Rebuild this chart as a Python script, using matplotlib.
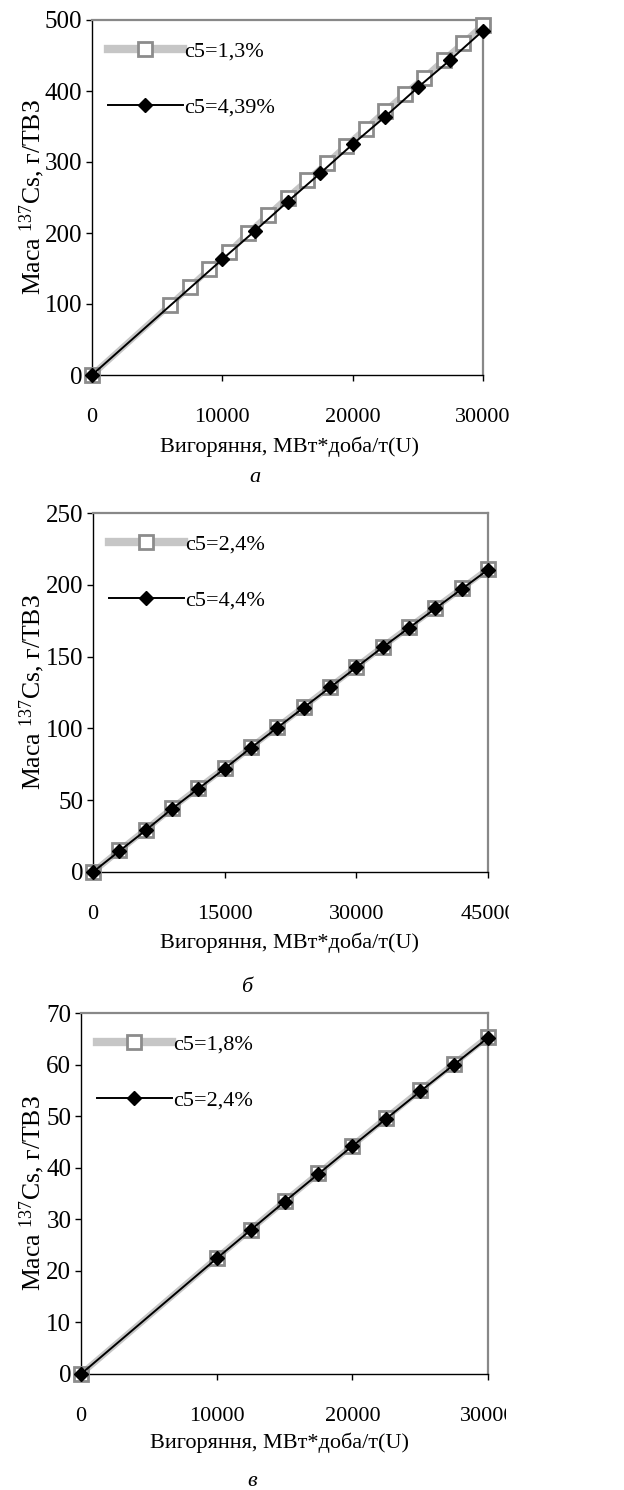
import matplotlib
matplotlib.use("Agg")
import matplotlib.pyplot as plt
from matplotlib.transforms import Bbox

plt.rcParams['font.family'] = ['Liberation Serif', 'DejaVu Serif']
plt.rcParams['mathtext.fontset'] = 'custom'
plt.rcParams['mathtext.rm'] = 'Liberation Serif'
plt.rcParams['mathtext.it'] = 'Liberation Serif:italic'

# ---- data ----
# panel а
a_x_gray = [0, 6000, 7500, 9000, 10500, 12000, 13500, 15000, 16500, 18000,
            19500, 21000, 22500, 24000, 25500, 27000, 28500, 30000]
a_y_gray = [0, 99, 124, 149, 173, 200, 225, 250, 274, 298,
            323, 347, 372, 396, 419, 444, 468, 493]
a_x_black = [0, 10000, 12500, 15000, 17500, 20000, 22500, 25000, 27500, 30000]
a_y_black = [0, 163, 203, 244, 284, 325, 364, 405, 444, 485]
a_labels = ["c5=1,3%", "c5=4,39%"]

# panel б
b_x = [0, 3000, 6000, 9000, 12000, 15000, 18000, 21000, 24000, 27000,
       30000, 33000, 36000, 39000, 42000, 45000]
b_y_gray = [0, 15, 29.5, 44.5, 58.5, 72.5, 87, 101, 115, 129,
            143, 157, 170.5, 184, 197.5, 211]
b_y_black = [0, 14.6, 29, 44, 58, 72, 86.5, 100.5, 114.5, 128.5,
             142.5, 156.5, 170, 183.5, 197, 210.5]
b_labels = ["c5=2,4%", "c5=4,4%"]

# panel в
c_x = [0, 10000, 12500, 15000, 17500, 20000, 22500, 25000, 27500, 30000]
c_y_gray = [0, 22.5, 28.0, 33.5, 38.9, 44.3, 49.7, 55.0, 60.2, 65.4]
c_y_black = [0, 22.4, 27.9, 33.4, 38.8, 44.2, 49.5, 54.8, 60.0, 65.2]
c_labels = ["c5=1,8%", "c5=2,4%"]

xlabel = "Вигоряння, МВт*доба/т(U)"
ylabel = "Маса $^{137}$Cs, г/ТВЗ"

W, H = 624, 1490
fig = plt.figure(figsize=(W / 100, H / 100), dpi=100)


def px_axes(l, t, r, b):
    return fig.add_axes([l / W, 1 - b / H, (r - l) / W, (b - t) / H])


panels = [
    dict(box=(92, 20, 483, 375), xg=a_x_gray, yg=a_y_gray, xb=a_x_black, yb=a_y_black,
         labels=a_labels, xlim=30000, xticks=[0, 10000, 20000, 30000],
         ylim=500, yticks=[0, 100, 200, 300, 400, 500],
         xlab=(289, 447), tag="а", tagpos=(255, 478), clipx=None),
    dict(box=(93, 513, 488, 872), xg=b_x, yg=b_y_gray, xb=b_x, yb=b_y_black,
         labels=b_labels, xlim=45000, xticks=[0, 15000, 30000, 45000],
         ylim=250, yticks=[0, 50, 100, 150, 200, 250],
         xlab=(290, 943), tag="б", tagpos=(247, 988), clipx=509),
    dict(box=(81, 1013, 488, 1374), xg=c_x, yg=c_y_gray, xb=c_x, yb=c_y_black,
         labels=c_labels, xlim=30000, xticks=[0, 10000, 20000, 30000],
         ylim=70, yticks=[0, 10, 20, 30, 40, 50, 60, 70],
         xlab=(280, 1443), tag="в", tagpos=(252, 1482), clipx=506),
]

axes = []
for p in panels:
    l, t, r, b = p['box']
    ax = px_axes(l, t, r, b)
    axes.append(ax)
    ax.plot(p['xg'], p['yg'], color='#c6c6c6', lw=4.5, marker='s', ms=10,
            mfc='white', mec='#8c8c8c', mew=2, label=p['labels'][0],
            clip_on=False, zorder=3)
    ax.plot(p['xb'], p['yb'], color='black', lw=1.4, marker='D', ms=7,
            mfc='black', mec='black', label=p['labels'][1],
            clip_on=False, zorder=4)
    ax.set_xlim(0, p['xlim'])
    ax.set_ylim(0, p['ylim'])
    ax.set_xticks(p['xticks'])
    ax.set_yticks(p['yticks'])
    ax.tick_params(axis='both', direction='out', length=4.5, width=1,
                   color='black')
    ax.tick_params(axis='x', pad=19, labelsize=16)
    ax.tick_params(axis='y', pad=2.5, labelsize=18)
    for s in ['top', 'right']:
        ax.spines[s].set_color('#888888')
        ax.spines[s].set_linewidth(1.6)
    for s in ['left', 'bottom']:
        ax.spines[s].set_color('black')
        ax.spines[s].set_linewidth(1.0)
    leg = ax.legend(loc='upper left', frameon=False, fontsize=16,
                    handlelength=3.4, handletextpad=0.05, labelspacing=1.6,
                    borderaxespad=0.3, bbox_to_anchor=(0.0, 0.985))
    leg.get_lines()[0].set_linewidth(6)
    fig.text(p['xlab'][0] / W, 1 - p['xlab'][1] / H, xlabel, fontsize=16,
             ha='center', va='center')
    fig.text(32 / W, 1 - ((t + b) / 2) / H, ylabel, fontsize=18.5, rotation=90,
             ha='center', va='center')
    fig.text(p['tagpos'][0] / W, 1 - p['tagpos'][1] / H, p['tag'], fontsize=16,
             style='italic', ha='center', va='center')

fig.canvas.draw()
for p, ax in zip(panels, axes):
    if p['clipx'] is not None:
        bb = Bbox.from_extents(0, 0, p['clipx'], H)
        for lab in ax.get_xticklabels():
            lab.set_clip_box(bb)
            lab.set_clip_on(True)

fig.savefig("out.png", dpi=100)
